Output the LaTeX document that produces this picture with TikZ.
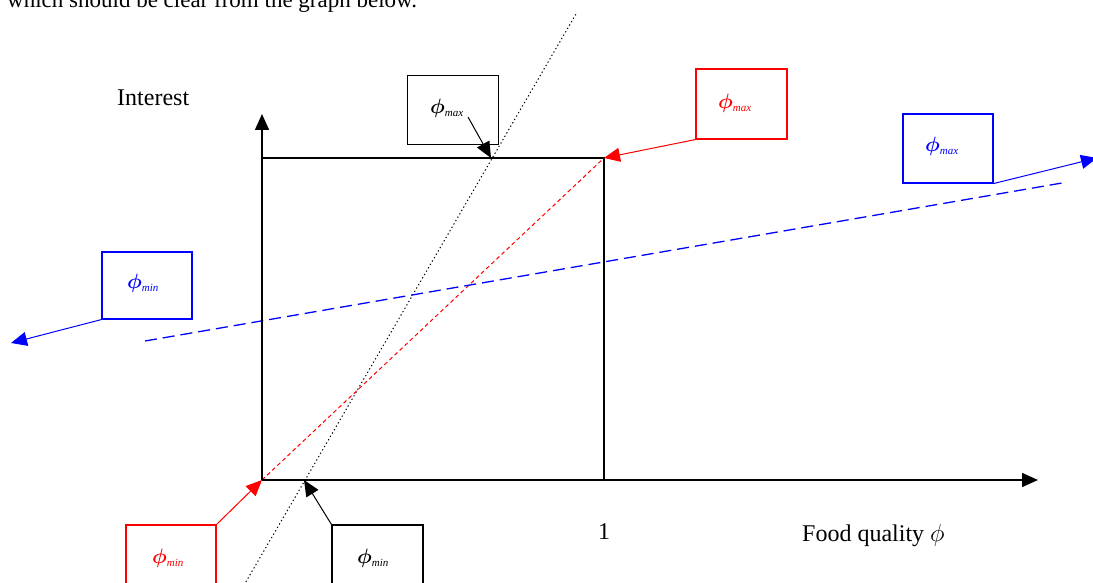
\documentclass[tikz,border=0pt]{standalone}
\usepackage{fontspec}
\setmainfont{Liberation Serif}
\usepackage{bm}
\usetikzlibrary{arrows.meta}
\definecolor{pblue}{RGB}{0,0,255}
\definecolor{pred}{RGB}{255,0,0}
\tikzset{
  axis/.style={line width=1.5pt,-{Triangle[length=16pt,width=14pt]}},
  frame/.style={line width=1.2pt},
  callbox/.style={draw,line width=1.1pt,rectangle,inner sep=0pt},
  callarrow/.style={line width=1pt,-{Triangle[length=16pt,width=14pt]}},
  lbl/.style={inner sep=0pt,font=\fontsize{24}{28}\selectfont},
  phil/.style={inner sep=0pt,font=\fontsize{22}{24}\selectfont},
}
\newcommand{\phimax}{$\bm{\phi}_{\scriptscriptstyle\mathit{max}}$}
\newcommand{\phimin}{$\bm{\phi}_{\scriptscriptstyle\mathit{min}}$}
\begin{document}
\begin{tikzpicture}[x=1pt,y=-1pt]
\useasboundingbox (0,0) rectangle (1093,583);
\clip (0,0) rectangle (1093,583);
% text
\node[lbl,anchor=base west,font=\fontsize{23}{27}\selectfont] (intro) at (7,8) {which should be clear from the graph below.};
% key coordinates
\coordinate (O) at (262,480);
\coordinate (Ytip) at (262,114);
\coordinate (Xtip) at (1038,480);
\coordinate (TL) at (262,158);
\coordinate (C) at (604,158);
\coordinate (B) at (604,480);
\coordinate (dotlo) at (240,592);
\coordinate (dothi) at (576,14);
\coordinate (dotmax) at (491,158);
\coordinate (dotmin) at (304,480);
\coordinate (bllo) at (145,341);
\coordinate (blhi) at (1062,183);
% frame and lines
\draw[frame] (TL) -- (C) -- (B);
\draw[black,line width=1pt,dash pattern=on 1.3pt off 2.6pt] (dotlo) -- (dothi);
\draw[pred,line width=1pt,dash pattern=on 4pt off 3pt] (O) -- (C);
\draw[pblue,line width=1.3pt,dash pattern=on 12pt off 6pt] (bllo) -- (blhi);
\draw[axis] (O) -- (Ytip);
\draw[axis] (O) -- (Xtip);
% axis labels
\node[lbl,anchor=base west] (interest) at (117,106) {Interest};
\node[lbl,anchor=base] (one) at (604,539) {1};
\node[lbl,anchor=base west] (food) at (802,541) {Food quality $\phi$};
% callout boxes
\node[callbox,minimum width=91pt,minimum height=69pt] (kmax) at (453,110) {};
\node[phil] (kmaxl) at (447,108) {\phimax};
\coordinate (kmaxs) at (468,117);
\draw[callarrow] (kmaxs) -- (dotmax);

\node[callbox,draw=pred,minimum width=91pt,minimum height=70pt] (rmax) at (741.5,104) {};
\node[phil,text=pred] (rmaxl) at (735,103) {\phimax};
\draw[callarrow,pred] (rmax.south west) -- (C);

\node[callbox,draw=pblue,minimum width=90pt,minimum height=69pt] (bmax) at (948,148.5) {};
\node[phil,text=pblue] (bmaxl) at (942,146) {\phimax};
\coordinate (bmaxt) at (1097,158);
\draw[callarrow,pblue] (bmax.south east) -- (bmaxt);

\node[callbox,draw=pblue,minimum width=90pt,minimum height=67pt] (bmin) at (147,285.5) {};
\node[phil,text=pblue] (bminl) at (143,283) {\phimin};
\coordinate (bmint) at (11,343);
\draw[callarrow,pblue] (bmin.south west) -- (bmint);

\node[callbox,draw=pred,minimum width=90pt,minimum height=69pt] (rmin) at (171,559.5) {};
\node[phil,text=pred] (rminl) at (168,558) {\phimin};
\draw[callarrow,pred] (rmin.north east) -- (O);

\node[callbox,minimum width=91pt,minimum height=69pt] (kmin) at (377.5,559.5) {};
\node[phil] (kminl) at (373,558) {\phimin};
\draw[callarrow] (kmin.north west) -- (dotmin);
\end{tikzpicture}
\end{document}
